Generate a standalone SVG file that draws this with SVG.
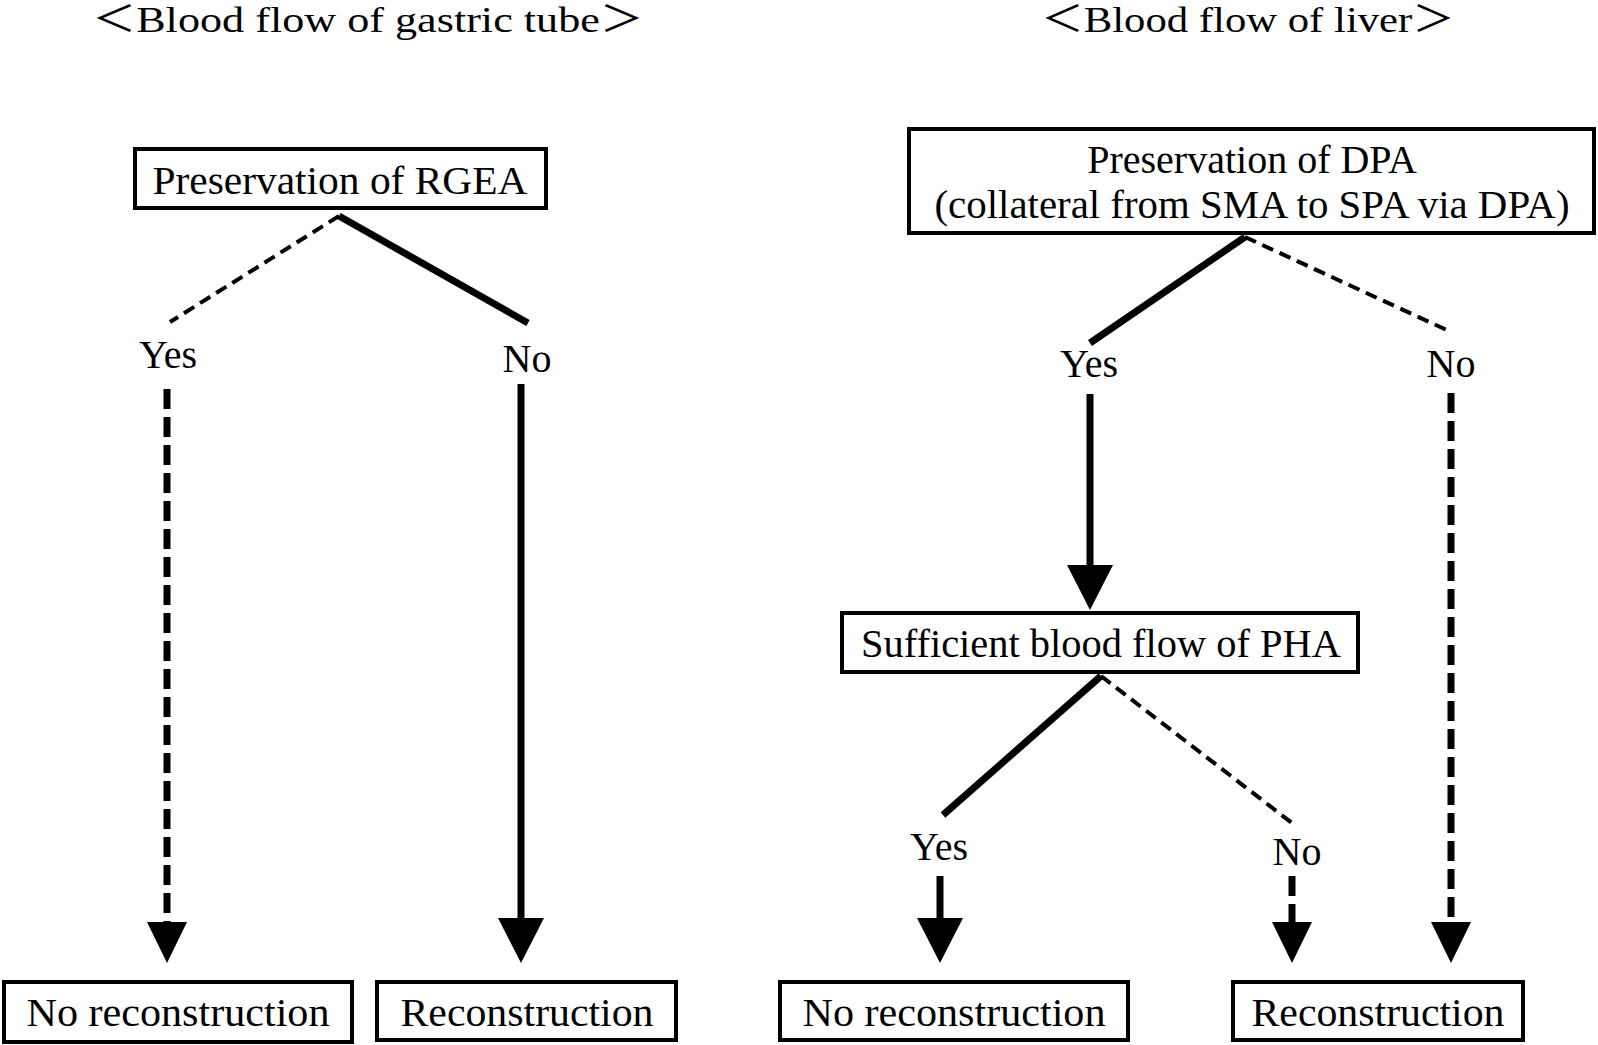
<svg xmlns="http://www.w3.org/2000/svg" width="1598" height="1045" viewBox="0 0 1598 1045">
<style>
text{font-family:"Liberation Serif","Noto Sans CJK JP",serif;font-size:40px;fill:#000;text-anchor:middle}
.title{font-size:36px}
.box{fill:#fff;stroke:#000;stroke-width:4}
.thin{fill:none;stroke:#000;stroke-width:4;stroke-dasharray:12 7}
.thick{fill:none;stroke:#000;stroke-width:7}
.dash{fill:none;stroke:#000;stroke-width:7;stroke-dasharray:20 8}
</style>
<defs>
<marker id="hs" markerUnits="userSpaceOnUse" markerWidth="46" markerHeight="48" refX="0" refY="23" orient="auto" viewBox="0 0 46 46"><path d="M0,0 L45,23 L0,46 z" fill="#000"/></marker>
<marker id="hd" markerUnits="userSpaceOnUse" markerWidth="42" markerHeight="42" refX="0" refY="20" orient="auto" viewBox="0 0 42 40"><path d="M0,0 L41,20 L0,40 z" fill="#000"/></marker>
</defs>
<rect width="1598" height="1045" fill="#fff"/>
<g id="titles">
<text class="title" x="368" y="32" textLength="552" lengthAdjust="spacingAndGlyphs">＜Blood flow of gastric tube＞</text>
<text class="title" x="1248" y="32" textLength="414" lengthAdjust="spacingAndGlyphs">＜Blood flow of liver＞</text>
</g>
<g id="connectors">
<path class="thin" d="M339,216 L170,322"/>
<path class="thick" d="M339,216 L528,323"/>
<path class="dash" d="M167,389 L167,922" marker-end="url(#hd)"/>
<path class="thick" d="M521,384 L521,918" marker-end="url(#hs)"/>
<path class="thick" d="M1245,237 L1090,343"/>
<path class="thin" d="M1245,237 L1451,332"/>
<path class="thick" d="M1090,394 L1090,565" marker-end="url(#hs)"/>
<path class="thick" d="M1101,676 L943,815"/>
<path class="thin" d="M1101,676 L1292,823"/>
<path class="thick" d="M940,876 L940,918" marker-end="url(#hs)"/>
<path class="dash" d="M1292,876 L1292,922" marker-end="url(#hd)"/>
<path class="dash" d="M1451,393 L1451,922" marker-end="url(#hd)"/>
</g>
<g id="labels">
<text x="168" y="368">Yes</text>
<text x="527" y="372">No</text>
<text x="1089" y="377">Yes</text>
<text x="1451" y="377">No</text>
<text x="939" y="860">Yes</text>
<text x="1297" y="865">No</text>
</g>
<g id="rgea"><rect class="box" x="135" y="149" width="411" height="59"/><text x="340" y="194" textLength="375" lengthAdjust="spacingAndGlyphs">Preservation of RGEA</text></g>
<g id="dpa"><rect class="box" x="909" y="129" width="685" height="104"/><text x="1252" y="173">Preservation of DPA</text><text x="1252" y="218" textLength="635" lengthAdjust="spacingAndGlyphs">(collateral from SMA to SPA via DPA)</text></g>
<g id="pha"><rect class="box" x="842" y="613" width="516" height="59"/><text x="1101" y="657" textLength="480" lengthAdjust="spacingAndGlyphs">Sufficient blood flow of PHA</text></g>
<g id="noRecon1"><rect class="box" x="4" y="982" width="348" height="60"/><text x="178" y="1026" textLength="303" lengthAdjust="spacingAndGlyphs">No reconstruction</text></g>
<g id="recon1"><rect class="box" x="377" y="982" width="299" height="58"/><text x="527" y="1026" textLength="253" lengthAdjust="spacingAndGlyphs">Reconstruction</text></g>
<g id="noRecon2"><rect class="box" x="780" y="982" width="348" height="58"/><text x="954" y="1026" textLength="303" lengthAdjust="spacingAndGlyphs">No reconstruction</text></g>
<g id="recon2"><rect class="box" x="1233" y="982" width="290" height="58"/><text x="1378" y="1026" textLength="253" lengthAdjust="spacingAndGlyphs">Reconstruction</text></g>
</svg>
